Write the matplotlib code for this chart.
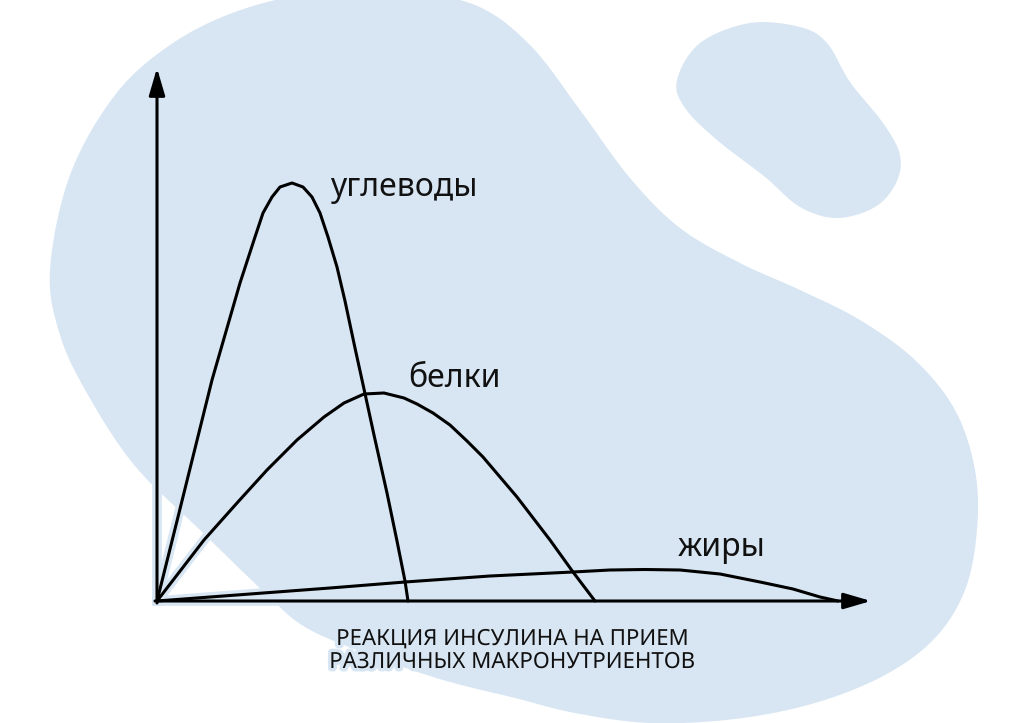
import numpy as np
import matplotlib
matplotlib.use("Agg")
import matplotlib.pyplot as plt
from matplotlib.patches import Polygon
import matplotlib.patheffects as pe

# curves, x = time, y = insulin response (arbitrary units)
carb_x = [0.00, 0.20, 0.55, 0.83, 0.98, 1.06, 1.15, 1.23, 1.35, 1.46, 1.55, 1.63, 1.71,
          1.80, 1.88, 1.98, 2.07, 2.17, 2.30, 2.40, 2.48, 2.51]
carb_y = [0.00, 0.80, 2.21, 3.18, 3.64, 3.88, 4.04, 4.14, 4.18, 4.14, 4.04, 3.88, 3.64,
          3.34, 3.00, 2.53, 2.12, 1.66, 1.08, 0.60, 0.20, 0.00]

prot_x = [0.00, 0.47, 0.80, 1.10, 1.40, 1.67, 1.87, 2.07, 2.27, 2.47, 2.60, 2.76, 2.93, 3.10,
          3.26, 3.60, 3.93, 4.16, 4.38]
prot_y = [0.00, 0.61, 0.98, 1.31, 1.61, 1.84, 1.98, 2.07, 2.08, 2.03, 1.97, 1.88, 1.76, 1.60,
          1.44, 1.04, 0.61, 0.29, 0.00]

fat_x = [0.00, 0.93, 1.73, 2.48, 3.33, 4.16, 4.53, 4.88, 5.23, 5.63, 6.03, 6.36, 6.63, 6.81]
fat_y = [0.00, 0.07, 0.13, 0.19, 0.25, 0.29, 0.31, 0.315, 0.31, 0.27, 0.19, 0.12, 0.04, 0.00]

labels = ["углеводы", "белки", "жиры"]
caption = ["РЕАКЦИЯ ИНСУЛИНА НА ПРИЕМ", "РАЗЛИЧНЫХ МАКРОНУТРИЕНТОВ"]

BLUE = "#d8e6f3"
plt.rcParams["font.family"] = ["Noto Sans", "DejaVu Sans"]


def smooth_closed(pts, n=16):
    # catmull-rom through the outline points
    p = np.array(pts, float)
    out = []
    t = np.linspace(0, 1, n, endpoint=False)[:, None]
    for i in range(len(p)):
        p0, p1, p2, p3 = p[i - 1], p[i], p[(i + 1) % len(p)], p[(i + 2) % len(p)]
        out.append(0.5 * (2 * p1 + (-p0 + p2) * t + (2 * p0 - 5 * p1 + 4 * p2 - p3) * t ** 2
                          + (-p0 + 3 * p1 - 3 * p2 + p3) * t ** 3))
    return np.vstack(out)


big_blob = [(50, 270), (70, 175), (115, 95), (170, 45), (235, 12), (310, -6), (400, -8), (475, 5),
            (530, 45), (580, 110), (630, 178), (680, 228), (740, 263), (800, 290), (860, 320),
            (915, 360), (955, 410), (975, 470), (977, 530), (965, 590), (935, 638), (885, 675),
            (815, 703), (735, 719), (650, 723), (575, 713), (515, 698), (443, 680), (370, 655),
            (305, 627), (262, 590), (200, 530), (135, 466), (88, 395), (60, 335)]
small_blob = [(677, 80), (700, 43), (750, 23), (800, 27), (827, 43), (850, 82), (883, 123),
              (900, 155), (896, 183), (875, 207), (837, 218), (800, 207), (765, 177),
              (717, 140), (685, 108)]

fig = plt.figure(figsize=(10.24, 7.23), dpi=100)

bg = fig.add_axes([0, 0, 1, 1])
bg.set_xlim(0, 1024)
bg.set_ylim(723, 0)
bg.axis("off")
for shape in (big_blob, small_blob):
    bg.add_patch(Polygon(smooth_closed(shape), closed=True, facecolor=BLUE, edgecolor="none"))

ax = fig.add_axes([0, 0, 1, 1])
ax.patch.set_alpha(0)
ax.set_xlim(-1.57, 8.67)
ax.set_ylim(-1.22, 6.01)
ax.axis("off")

curves = [(fat_x, fat_y), (prot_x, prot_y), (carb_x, carb_y)]

# light halo under everything first, then the black lines
for xs, ys in curves:
    ax.plot(xs, ys, color=BLUE, lw=7, solid_capstyle="round", zorder=2)
ax.plot([0, 0], [0, 5.3], color=BLUE, lw=7, zorder=2)
ax.plot([0, 7.1], [0, 0], color=BLUE, lw=7, zorder=2)

for xs, ys in curves:
    ax.plot(xs, ys, color="black", lw=2.2, solid_joinstyle="round", solid_capstyle="round",
            zorder=3)

arrow = dict(arrowstyle="-|>,head_length=0.75,head_width=0.22", lw=2.2, color="black",
             mutation_scale=22, shrinkA=0, shrinkB=0)
ax.annotate("", xy=(0, 5.33), xytext=(0, -0.02), arrowprops=arrow, zorder=4)
ax.annotate("", xy=(7.14, 0), xytext=(-0.02, 0), arrowprops=arrow, zorder=4)

ax.text(1.73, 4.05, labels[0], fontsize=23, color="#111111", ha="left", va="baseline")
ax.text(2.51, 2.14, labels[1], fontsize=23, color="#111111", ha="left", va="baseline")
ax.text(5.21, 0.45, labels[2], fontsize=23, color="#111111", ha="left", va="baseline")

txt_halo = [pe.withStroke(linewidth=5, foreground=BLUE)]
ax.text(3.55, -0.44, caption[0], fontsize=16, color="#111111", ha="center", va="baseline",
        path_effects=txt_halo)
ax.text(3.55, -0.67, caption[1], fontsize=16, color="#111111", ha="center", va="baseline",
        path_effects=txt_halo)

fig.savefig("out.png", dpi=100)
